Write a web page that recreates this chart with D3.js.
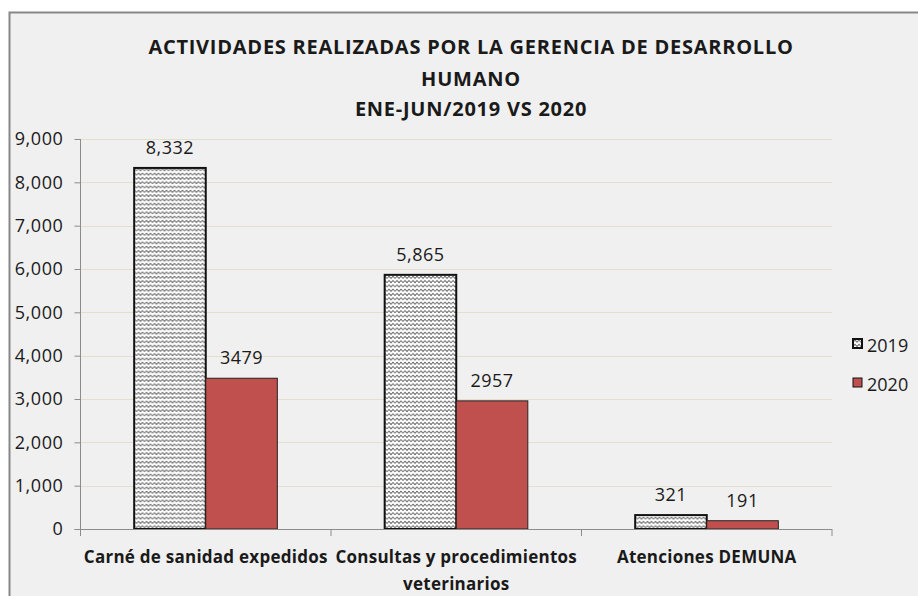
<!DOCTYPE html>
<html>
<head>
<meta charset="utf-8">
<script src="https://cdn.jsdelivr.net/npm/d3@7"></script>
<style>
  body { margin: 0; background: #fff; }
  svg { display: block; font-family: "Open Sans", sans-serif; }
</style>
</head>
<body>
<div id="chart"></div>
<script>
// Data
const categories = ["Carné de sanidad expedidos", "Consultas y procedimientos veterinarios", "Atenciones DEMUNA"];
const categoryLines = [["Carné de sanidad expedidos"], ["Consultas y procedimientos", "veterinarios"], ["Atenciones DEMUNA"]];
const series = ["2019", "2020"];
const values2019 = [8332, 5865, 321];
const values2020 = [3479, 2957, 191];
const labels2019 = ["8,332", "5,865", "321"];
const labels2020 = ["3479", "2957", "191"];
const yTicks = [0, 1000, 2000, 3000, 4000, 5000, 6000, 7000, 8000, 9000];
const titleLines = ["ACTIVIDADES REALIZADAS POR LA GERENCIA DE DESARROLLO", "HUMANO", "ENE-JUN/2019 VS 2020"];

const width = 918, height = 596;
const plot = { left: 80.5, right: 832, top: 139, bottom: 529 };

const svg = d3.select("#chart").append("svg")
    .attr("width", width)
    .attr("height", height);

// wave pattern for 2019
const defs = svg.append("defs");
const pat = defs.append("pattern")
    .attr("id", "wave")
    .attr("patternUnits", "userSpaceOnUse")
    .attr("width", 8).attr("height", 4.3);
pat.append("rect").attr("width", 8).attr("height", 4.3).attr("fill", "#fff");
pat.append("path")
    .attr("d", "M0,3.2 L2,1 L4,3.2 L6,1 L8,3.2")
    .attr("fill", "none").attr("stroke", "#555").attr("stroke-width", 0.9);

// chart frame
svg.append("rect")
    .attr("x", 9.5).attr("y", 12.5)
    .attr("width", width).attr("height", height)
    .attr("fill", "#f0f0f0")
    .attr("stroke", "#878787").attr("stroke-width", 2);

// title
svg.append("text")
    .attr("text-anchor", "middle")
    .attr("font-weight", "bold")
    .attr("font-size", 20)
    .attr("letter-spacing", 0.75)
    .attr("fill", "#1a1a1a")
    .selectAll("tspan")
    .data(titleLines)
    .join("tspan")
    .attr("x", 471)
    .attr("y", (d, i) => [54, 86, 116][i])
    .text(d => d);

// scales
const x = d3.scaleBand().domain(categories).range([plot.left, plot.right]).padding(0);
const xInner = d3.scaleBand().domain(series).range([0, x.bandwidth()]).paddingInner(0).paddingOuter(0.75);
const y = d3.scaleLinear().domain([0, 9000]).range([plot.bottom, plot.top]);

// gridlines
svg.append("g")
    .selectAll("line")
    .data(yTicks.filter(d => d > 0))
    .join("line")
    .attr("x1", plot.left).attr("x2", plot.right)
    .attr("y1", d => Math.round(y(d)) + 0.5).attr("y2", d => Math.round(y(d)) + 0.5)
    .attr("stroke", "#e3dfcc").attr("stroke-width", 1.2);

// y axis
const yAxis = svg.append("g")
    .attr("transform", `translate(${plot.left},0)`)
    .call(d3.axisLeft(y).tickValues(yTicks).tickFormat(d3.format(",")).tickSize(6).tickPadding(11));
yAxis.select(".domain").attr("stroke", "#8c8c8c").attr("d", `M0,${plot.top}V${plot.bottom}`);
yAxis.selectAll(".tick line").attr("stroke", "#8c8c8c");
yAxis.selectAll(".tick text").attr("font-size", 18).attr("letter-spacing", 0.6)
    .attr("fill", "#1a1a1a").attr("font-family", "Open Sans, sans-serif");

// bars
const rows = categories.map((c, i) => ({ cat: c, vals: [
    { s: "2019", v: values2019[i], label: labels2019[i] },
    { s: "2020", v: values2020[i], label: labels2020[i] }
] }));

const groups = svg.append("g")
    .selectAll("g")
    .data(rows)
    .join("g")
    .attr("transform", d => `translate(${x(d.cat)},0)`);

groups.selectAll("rect")
    .data(d => d.vals)
    .join("rect")
    .attr("x", d => xInner(d.s))
    .attr("y", d => y(d.v))
    .attr("width", xInner.bandwidth())
    .attr("height", d => y(0) - y(d.v))
    .attr("fill", d => d.s === "2019" ? "url(#wave)" : "#c0504d")
    .attr("stroke", d => d.s === "2019" ? "#111" : "#222")
    .attr("stroke-width", d => d.s === "2019" ? 2 : 1);

groups.selectAll("text")
    .data(d => d.vals)
    .join("text")
    .attr("x", d => xInner(d.s) + xInner.bandwidth() / 2)
    .attr("y", d => y(d.v) - 14)
    .attr("text-anchor", "middle")
    .attr("font-size", 18)
    .attr("letter-spacing", 0.5)
    .attr("fill", "#1a1a1a")
    .text(d => d.label);

// x axis
const xAxis = svg.append("g")
    .attr("transform", `translate(0,${plot.bottom})`);
xAxis.append("line")
    .attr("x1", plot.left - 6).attr("x2", plot.right)
    .attr("y1", 0.5).attr("y2", 0.5)
    .attr("stroke", "#8c8c8c");
xAxis.selectAll(".tk")
    .data([plot.left].concat(categories.map(c => x(c) + x.bandwidth())))
    .join("line")
    .attr("x1", d => d).attr("x2", d => d)
    .attr("y1", 0).attr("y2", 7)
    .attr("stroke", "#8c8c8c");

xAxis.selectAll(".cat")
    .data(categories)
    .join("text")
    .attr("text-anchor", "middle")
    .attr("font-weight", "bold")
    .attr("font-size", 17)
    .attr("letter-spacing", 0.25)
    .attr("fill", "#1a1a1a")
    .each(function (d, i) {
        d3.select(this).selectAll("tspan")
            .data(categoryLines[i])
            .join("tspan")
            .attr("x", x(d) + x.bandwidth() / 2)
            .attr("y", (t, j) => 34 + j * 27)
            .text(t => t);
    });

// legend
const legend = svg.append("g")
    .selectAll("g")
    .data(series)
    .join("g")
    .attr("transform", (d, i) => `translate(853,${339 + i * 39})`);
legend.append("rect")
    .attr("width", 9).attr("height", 9)
    .attr("fill", d => d === "2019" ? "url(#wave)" : "#c0504d")
    .attr("stroke", "#111")
    .attr("stroke-width", d => d === "2019" ? 2 : 1);
legend.append("text")
    .attr("x", 14).attr("y", 13)
    .attr("font-size", 18)
    .attr("fill", "#1a1a1a")
    .text(d => d);
</script>
</body>
</html>
